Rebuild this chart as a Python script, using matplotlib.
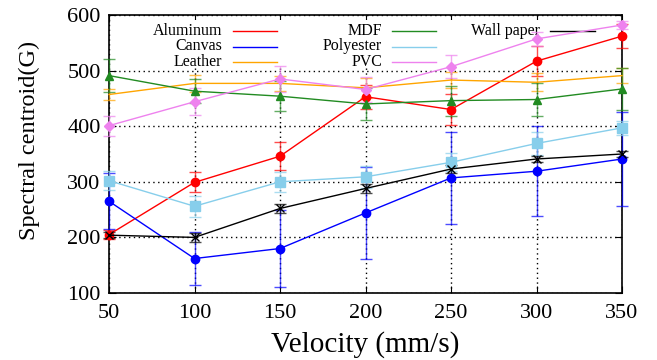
import matplotlib
matplotlib.use('Agg')
import matplotlib.pyplot as plt
from matplotlib.patches import Rectangle

plt.rcParams['font.family'] = ['Liberation Serif', 'DejaVu Serif']

# data
velocity = [50, 100, 150, 200, 250, 300, 350]

aluminum = [205, 299, 346, 453, 430, 517, 562]
aluminum_err = [8, 18, 25, 22, 28, 27, 22]
canvas = [265, 162, 180, 244, 307, 319, 341]
canvas_err = [50, 48, 70, 82, 82, 81, 85]
leather = [457, 477, 477, 469, 483, 479, 491]
leather_err = [10, 15, 14, 18, 14, 16, 14]
mdf = [491, 463, 454, 440, 446, 448, 467]
mdf_err = [30, 22, 27, 28, 27, 30, 37]
polyester = [302, 256, 300, 309, 335, 369, 397]
polyester_err = [17, 19, 18, 20, 16, 20, 12]
pvc = [401, 444, 485, 466, 507, 557, 582]
pvc_err = [18, 24, 24, 23, 21, 12, 8]
wallpaper = [204, 200, 252, 288, 323, 341, 350]
wallpaper_err = [5, 8, 8, 8, 7, 6, 6]

series = [
    ("Aluminum", aluminum, aluminum_err, "red", "o", 6),
    ("Canvas", canvas, canvas_err, "blue", "o", 6),
    ("Leather", leather, leather_err, "orange", "None", 0),
    ("MDF", mdf, mdf_err, "forestgreen", "^", 6),
    ("Polyester", polyester, polyester_err, "skyblue", "s", 7),
    ("PVC", pvc, pvc_err, "violet", "D", 5),
    ("Wall paper", wallpaper, wallpaper_err, "black", "x", 6),
]

fig = plt.figure(figsize=(6.57, 3.6), dpi=100)
ax = fig.add_axes([109/657, 1-293/360, (622-109)/657, (293-15)/360])

for name, y, err, col, mk, ms in series:
    line, caps, bars = ax.errorbar(velocity, y, yerr=err, color=col, marker=mk,
                                   markersize=ms, linewidth=1.0, elinewidth=1.0,
                                   capsize=4, capthick=1.0, zorder=3, clip_on=False)
    for c in caps:
        c.set_alpha(0.7)
    for b in bars:
        b.set_alpha(0.7)

ax.set_xlim(50, 350)
ax.set_ylim(100, 600)
ax.set_xticks(velocity)
ax.set_yticks([100, 200, 300, 400, 500, 600])
ax.tick_params(direction='in', top=True, right=True, labelsize=16, length=5)
ax.tick_params(axis='x', pad=8)
ax.tick_params(axis='y', pad=6)
ax.grid(True, color='black', linestyle=(0, (1, 2.5)), linewidth=1.0)
for s in ax.spines.values():
    s.set_linewidth(1.2)

ax.set_xlabel('Velocity (mm/s)', fontsize=21, labelpad=6)
ax.set_ylabel('Spectral centroid(G)', fontsize=17.5)
ax.yaxis.set_label_coords(-0.135, 0.55)

# legend drawn by hand (gnuplot style: text then line sample)
def px2ax(x, y):
    return (x - 109) / (622 - 109), (293 - y) / (293 - 15)

x0, y0 = px2ax(125, 68)
x1, y1 = px2ax(600, 20)
ax.add_patch(Rectangle((x0, y0), x1 - x0, y1 - y0, transform=ax.transAxes,
                       facecolor='white', edgecolor='none', zorder=1.8))

text_x = [222, 382, 540]
line_x = [(233, 277), (392, 436), (550, 595)]
rows_y = [31, 46.5, 62]
for i, (name, y, err, col, mk, ms) in enumerate(series):
    c, r = i // 3, i % 3
    tx, ty = px2ax(text_x[c], rows_y[r])
    ax.text(tx, ty, name, transform=ax.transAxes, ha='right', va='center',
            fontsize=11.5, zorder=2)
    lx0, _ = px2ax(line_x[c][0], rows_y[r])
    lx1, _ = px2ax(line_x[c][1], rows_y[r])
    ax.plot([lx0, lx1], [ty, ty], color=col, linewidth=1.0,
            transform=ax.transAxes, zorder=2)

fig.savefig('out.png', dpi=100)
